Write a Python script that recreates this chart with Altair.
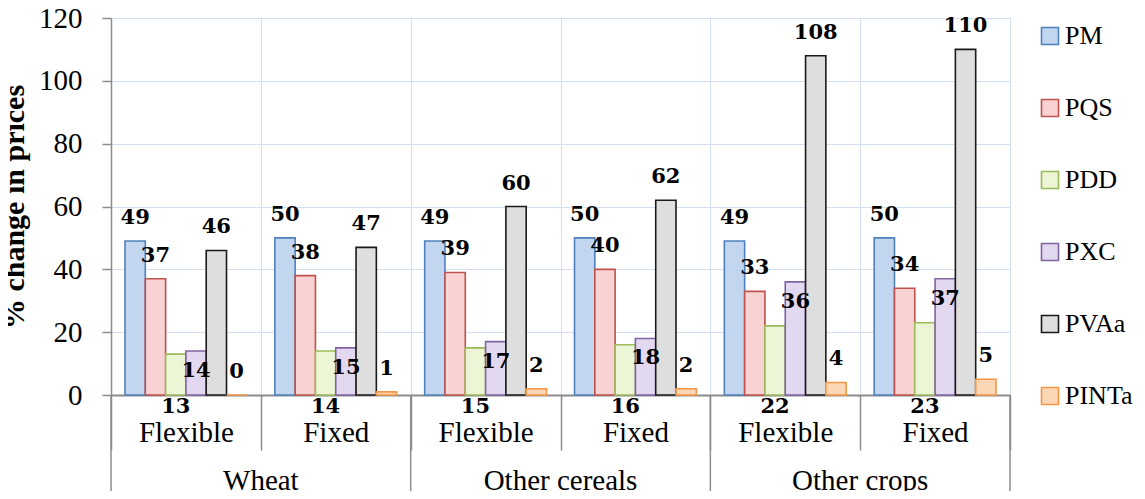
import altair as alt
import pandas as pd

groups = ["Wheat", "Wheat", "Other cereals", "Other cereals", "Other crops", "Other crops"]
regimes = ["Flexible", "Fixed", "Flexible", "Fixed", "Flexible", "Fixed"]
series = ["PM", "PQS", "PDD", "PXC", "PVAa", "PINTa"]
PM = [49, 50, 49, 50, 49, 50]
PQS = [37, 38, 39, 40, 33, 34]
PDD = [13, 14, 15, 16, 22, 23]
PXC = [14, 15, 17, 18, 36, 37]
PVAa = [46, 47, 60, 62, 108, 110]
PINTa = [0, 1, 2, 2, 4, 5]
y_ticks = [0, 20, 40, 60, 80, 100, 120]

fills = ["#c3d6f0", "#f9d3d3", "#ecf6d6", "#e2d8f0", "#dedede", "#fcd7b6"]
strokes = ["#4f81bd", "#c0504d", "#9bbb59", "#8064a2", "#1a1a1a", "#f79646"]

vals = {"PM": PM, "PQS": PQS, "PDD": PDD, "PXC": PXC, "PVAa": PVAa, "PINTa": PINTa}
subs = [f"{g}|{r}" for g, r in zip(groups, regimes)]
rows = []
for i, sub in enumerate(subs):
    for s in series:
        rows.append({"group": groups[i], "sub": sub, "series": s, "value": vals[s][i]})
df = pd.DataFrame(rows)

group_names = ["Wheat", "Other cereals", "Other crops"]
gdf = pd.DataFrame({"group": group_names, "sub": [subs[0], subs[2], subs[4]]})
edf = pd.DataFrame({"sub": [subs[5]]})

PAD_T = 10
W, H = 899, 387 - PAD_T
PAD_B = 483 - PAD_T - H
serif = "Liberation Serif"
gray = "#8c8c8c"
grid = "#d3e0f1"

xscale = alt.Scale(domain=subs, paddingInner=0, paddingOuter=0)
xoff = alt.XOffset("series:N", sort=series,
                   scale=alt.Scale(domain=series, paddingInner=0, paddingOuter=0.69))
yscale = alt.Scale(domain=[0, 120])

xaxis = alt.Axis(labelExpr="split(datum.label, '|')[1]", labelFont=serif, labelFontSize=29,
                 labelColor="black", labelPadding=-32, labelAngle=0, tickBand="extent",
                 tickSize=55, tickColor=gray, tickWidth=1.5, domainColor=gray, domainWidth=2,
                 grid=True, gridColor=grid, gridWidth=1)
yaxis = alt.Axis(values=y_ticks, labelFont=serif, labelFontSize=29, labelColor="black",
                 labelPadding=20, tickSize=9, tickColor=gray, tickWidth=1.5, domainColor=gray,
                 domainWidth=1.5, gridColor=grid, gridWidth=1, titleFont=serif, titleFontSize=30,
                 titleFontWeight="bold", titleColor="black", titlePadding=9)

leg = alt.Legend(title=None, orient="none", legendX=926, legendY=5, symbolType="square",
                 symbolSize=289, symbolStrokeWidth=1.6, labelFont=serif, labelFontSize=26,
                 labelColor="black", labelOffset=2, rowPadding=46, padding=0)

base = alt.Chart(df)
bars = base.mark_bar(strokeWidth=1.6).encode(
    x=alt.X("sub:N", scale=xscale, sort=subs, title=None, axis=xaxis),
    xOffset=xoff,
    y=alt.Y("value:Q", scale=yscale, title="% change in prices", axis=yaxis),
    fill=alt.Fill("series:N", scale=alt.Scale(domain=series, range=fills), legend=leg),
    stroke=alt.Stroke("series:N", scale=alt.Scale(domain=series, range=strokes), legend=leg),
)

lab = dict(font="DejaVu Serif", fontWeight="bold", fontSize=21, color="black", baseline="middle")
above = base.transform_filter(
    alt.FieldOneOfPredicate(field="series", oneOf=["PM", "PQS", "PVAa", "PINTa"])
).mark_text(dy=-23, **lab).encode(
    x=alt.X("sub:N", sort=subs), xOffset=xoff, y="value:Q", text="value:Q")
inside = base.transform_filter(alt.datum.series == "PXC").mark_text(dy=20, **lab).encode(
    x=alt.X("sub:N", sort=subs), xOffset=xoff, y="value:Q", text="value:Q")
below = base.transform_filter(alt.datum.series == "PDD").mark_text(dy=12, **lab).encode(
    x=alt.X("sub:N", sort=subs), xOffset=xoff, y=alt.datum(0), text="value:Q")

glabels = alt.Chart(gdf).mark_text(font=serif, fontSize=29, color="black",
                                   baseline="alphabetic").encode(
    x=alt.X("sub:N", sort=subs, bandPosition=1), y=alt.value(H + PAD_B - 1), text="group:N")
seps = alt.Chart(gdf).mark_rule(color=gray, strokeWidth=1.5).encode(
    x=alt.X("sub:N", sort=subs, bandPosition=0), y=alt.value(H), y2=alt.value(H + PAD_B))
seps_end = alt.Chart(edf).mark_rule(color=gray, strokeWidth=1.5).encode(
    x=alt.X("sub:N", sort=subs, bandPosition=1), y=alt.value(H), y2=alt.value(H + PAD_B))

chart = alt.layer(bars, above, inside, below, seps, seps_end, glabels).properties(
    width=W, height=H,
    autosize=alt.AutoSizeParams(type="none"),
    padding={"left": 103, "top": PAD_T, "right": 127, "bottom": PAD_B},
).configure_view(stroke="transparent").configure(background="white")

chart.save("out.html", embed_options={"renderer": "svg", "actions": False})
